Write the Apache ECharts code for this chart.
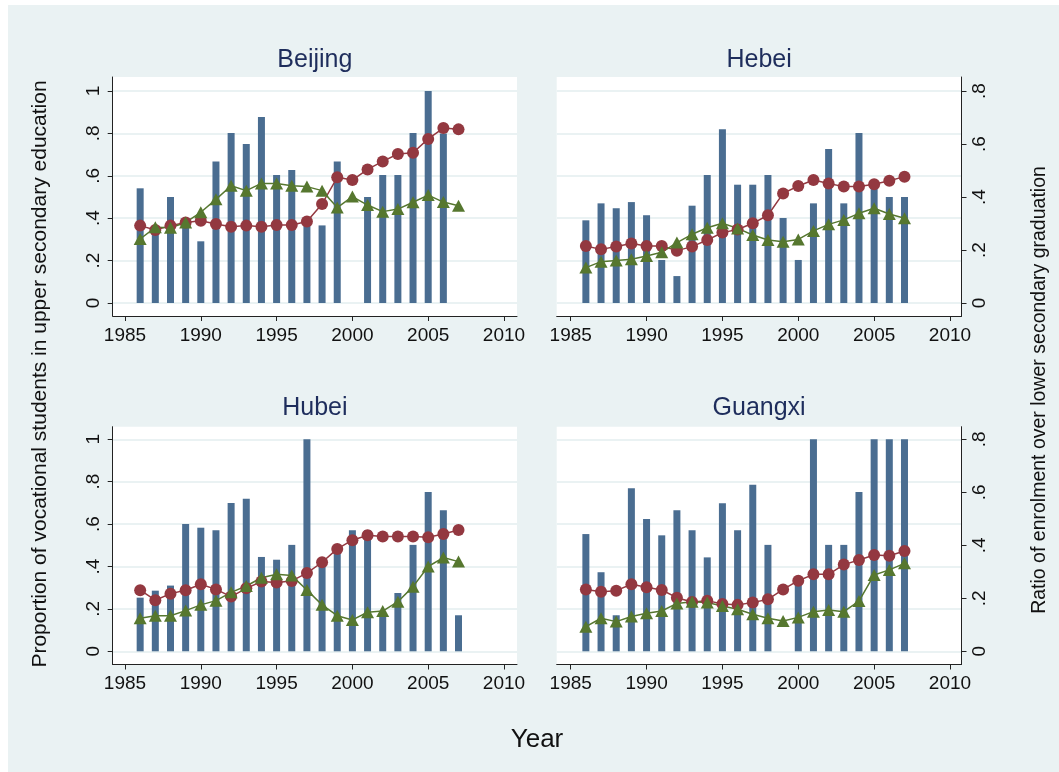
<!DOCTYPE html>
<html><head><meta charset="utf-8">
<script src="https://cdn.jsdelivr.net/npm/echarts@6/dist/echarts.min.js"></script>
<style>html,body{margin:0;padding:0;background:#fff}#c{width:1059px;height:772px}</style>
</head><body><div id="c"></div>
<script>
// ---------- data ----------
const years = [1986,1987,1988,1989,1990,1991,1992,1993,1994,1995,1996,1997,1998,1999,2000,2001,2002,2003,2004,2005,2006,2007];
const xTickLabels = ['1985','1990','1995','2000','2005','2010'];
const leftTickLabels = ['0','.2','.4','.6','.8','1'];
const rightTickLabels = ['0','.2','.4','.6','.8'];
const panelNames = ['Beijing','Hebei','Hubei','Guangxi'];

const beijingBars  = [0.541,0.33,0.50,0.37,0.291,0.668,0.802,0.75,0.877,0.604,0.627,0.37,0.366,0.668,null,0.50,0.604,0.604,0.802,1.0,0.80,null];
const beijingRed   = [0.365,0.344,0.365,0.38,0.388,0.373,0.36,0.365,0.36,0.368,0.368,0.384,0.467,0.593,0.58,0.63,0.668,0.703,0.709,0.774,0.825,0.819];
const beijingGreen = [0.302,0.357,0.355,0.38,0.428,0.489,0.553,0.53,0.564,0.564,0.553,0.549,0.53,0.45,0.502,0.462,0.431,0.443,0.475,0.509,0.476,0.459];

const hebeiBars  = [0.39,0.47,0.447,0.476,0.414,0.203,0.127,0.459,0.604,0.819,0.558,0.558,0.604,0.401,0.203,0.47,0.726,0.47,0.802,0.55,0.50,0.50];
const hebeiRed   = [0.269,0.253,0.266,0.281,0.269,0.269,0.247,0.266,0.297,0.332,0.347,0.376,0.414,0.517,0.552,0.58,0.564,0.549,0.549,0.56,0.577,0.596];
const hebeiGreen = [0.167,0.195,0.2,0.206,0.222,0.239,0.285,0.324,0.355,0.376,0.352,0.321,0.297,0.289,0.30,0.34,0.371,0.392,0.423,0.447,0.42,0.40];

const hubeiBars  = [0.253,0.286,0.31,0.601,0.583,0.571,0.70,0.719,0.445,0.432,0.502,1.0,0.41,0.47,0.571,0.571,0.18,0.275,0.502,0.752,0.665,0.17];
const hubeiRed   = [0.288,0.241,0.272,0.288,0.316,0.292,0.258,0.297,0.329,0.324,0.332,0.369,0.42,0.483,0.524,0.547,0.542,0.542,0.542,0.538,0.553,0.572];
const hubeiGreen = [0.156,0.168,0.168,0.192,0.219,0.239,0.278,0.308,0.347,0.363,0.357,0.289,0.219,0.168,0.148,0.184,0.19,0.234,0.305,0.40,0.442,0.423];

const guangxiBars  = [0.553,0.373,0.17,0.769,0.624,0.547,0.665,0.571,0.443,0.698,0.571,0.786,0.502,null,0.32,1.0,0.502,0.502,0.752,1.0,1.0,1.0];
const guangxiRed   = [0.292,0.281,0.286,0.316,0.302,0.289,0.253,0.233,0.239,0.223,0.219,0.23,0.245,0.292,0.333,0.363,0.363,0.409,0.431,0.454,0.451,0.473];
const guangxiGreen = [0.116,0.156,0.14,0.164,0.179,0.19,0.226,0.234,0.23,0.214,0.198,0.175,0.156,0.143,0.16,0.187,0.195,0.187,0.237,0.36,0.384,0.415];

const leftTitle = 'Proportion of vocational students in upper secondary education';
const rightTitle = 'Ratio of enrolment over lower secondary graduation';
const xTitle = 'Year';

// ---------- styles / layout ----------
const FONT = '"Liberation Sans", Arial, Helvetica, sans-serif';
const BAR = '#4a6d91', RED = '#933840', GREEN = '#56772f';
const BG = '#eaf2f3', GRIDC = '#eaf2f3', AX = '#222', TITLEC = '#1e2d5c';

const geo = [
  {L:112.7, R:517,   T:77,    B:316,   y0:303,   y1:91,    x0:125,   x1:504, side:'left'},
  {L:556.7, R:961.5, T:77,    B:316,   y0:303,   y1:91,    x0:570.7, x1:950, side:'right'},
  {L:112.7, R:517,   T:426.7, B:664.5, y0:651.3, y1:439.3, x0:125,   x1:504, side:'left'},
  {L:556.7, R:961.5, T:426.7, B:664.5, y0:651.3, y1:439.3, x0:570.7, x1:950, side:'right'}
];
const panelData = [
  [beijingBars, beijingRed, beijingGreen],
  [hebeiBars, hebeiRed, hebeiGreen],
  [hubeiBars, hubeiRed, hubeiGreen],
  [guangxiBars, guangxiRed, guangxiGreen]
];

const grid = [], xAxis = [], yAxis = [], series = [], graphic = [];
const axLine = {show:true, onZero:false, lineStyle:{color:AX, width:1}};
const lbl = {color:'#111', fontFamily:FONT, fontSize:19};

geo.forEach((g, i) => {
  const ppy = (g.x1 - g.x0) / 25;
  const xmin = 1985 - (g.x0 - g.L) / ppy;
  const xmax = 2010 + (g.R - g.x1) / ppy;
  // frame grid (white plot region + axis lines)
  grid.push({left:g.L, top:g.T, width:g.R-g.L, height:g.B-g.T, show:true, backgroundColor:'#fff', borderWidth:0});
  const gf = grid.length - 1;
  xAxis.push({gridIndex:gf, type:'value', min:0, max:1, axisLine:axLine, axisTick:{show:false}, axisLabel:{show:false}, splitLine:{show:false}});
  yAxis.push({gridIndex:gf, type:'value', min:0, max:1, position:g.side, axisLine:axLine, axisTick:{show:false}, axisLabel:{show:false}, splitLine:{show:false}});
  // data grid
  grid.push({left:g.L, top:g.y1, width:g.R-g.L, height:g.y0-g.y1, show:false});
  const gd = grid.length - 1;
  xAxis.push({gridIndex:gd, type:'value', min:xmin, max:xmax, show:false});
  const dx = xAxis.length - 1;
  const isLeft = g.side === 'left';
  yAxis.push({gridIndex:gd, type:'value', min:0, max:1, interval:0.2, position:'left',
    axisLine:{show:false, onZero:false},
    axisTick:{show:isLeft, length:5, lineStyle:{color:AX}},
    axisLabel:Object.assign({show:isLeft, rotate:90, margin:9, formatter:v => leftTickLabels[Math.round(v/0.2)]}, lbl),
    splitLine:{show:true, lineStyle:{color:GRIDC, width:2}}});
  const dy = yAxis.length - 1;
  if (!isLeft) {
    yAxis.push({gridIndex:gd, type:'value', min:0, max:0.8, interval:0.2, position:'right',
      axisLine:{show:false, onZero:false},
      axisTick:{show:true, length:5, lineStyle:{color:AX}},
      axisLabel:Object.assign({show:true, rotate:90, margin:9, formatter:v => rightTickLabels[Math.round(v/0.2)]}, lbl),
      splitLine:{show:false}});
  }
  // x tick grid
  grid.push({left:g.x0, top:g.T, width:g.x1-g.x0, height:g.B-g.T, show:false});
  const gt = grid.length - 1;
  xAxis.push({gridIndex:gt, type:'value', min:1985, max:2010, interval:5,
    axisLine:{show:false, onZero:false},
    axisTick:{show:true, length:5, lineStyle:{color:AX}},
    axisLabel:Object.assign({margin:10, formatter:v => xTickLabels[Math.round((v-1985)/5)]}, lbl),
    splitLine:{show:false}});
  yAxis.push({gridIndex:gt, type:'value', min:0, max:1, show:false});

  const [bars, red, green] = panelData[i];
  series.push({type:'bar', xAxisIndex:dx, yAxisIndex:dy, barWidth:7, itemStyle:{color:BAR},
    data: years.map((y,k) => [y, bars[k]])});
  series.push({type:'line', xAxisIndex:dx, yAxisIndex:dy, symbol:'circle', symbolSize:12,
    lineStyle:{color:RED, width:1.5}, itemStyle:{color:RED},
    data: years.map((y,k) => [y, red[k]])});
  series.push({type:'line', xAxisIndex:dx, yAxisIndex:dy, symbol:'triangle', symbolSize:[13,12],
    lineStyle:{color:GREEN, width:1.5}, itemStyle:{color:GREEN},
    data: years.map((y,k) => [y, green[k]])});

  graphic.push({type:'text', x:(g.L+g.R)/2, y:(i<2?60:408), z:100,
    style:{text:panelNames[i], fill:TITLEC, font:'25px ' + FONT, align:'center', verticalAlign:'middle'}});
});

graphic.unshift({type:'rect', shape:{x:8, y:5, width:1051, height:767}, style:{fill:BG}, z:-100, silent:true});
graphic.push({type:'text', x:40, y:374, rotation:Math.PI/2, z:100,
  style:{text:leftTitle, fill:'#111', font:'21px ' + FONT, align:'center', verticalAlign:'middle'}});
graphic.push({type:'text', x:1040, y:390, rotation:Math.PI/2, z:100,
  style:{text:rightTitle, fill:'#111', font:'19.5px ' + FONT, align:'center', verticalAlign:'middle'}});
graphic.push({type:'text', x:537, y:740, z:100,
  style:{text:xTitle, fill:'#111', font:'26px ' + FONT, align:'center', verticalAlign:'middle'}});

const chart = echarts.init(document.getElementById('c'), null, {renderer:'canvas'});
chart.setOption({backgroundColor:'#fff', animation:false, grid, xAxis, yAxis, series, graphic});
</script></body></html>
